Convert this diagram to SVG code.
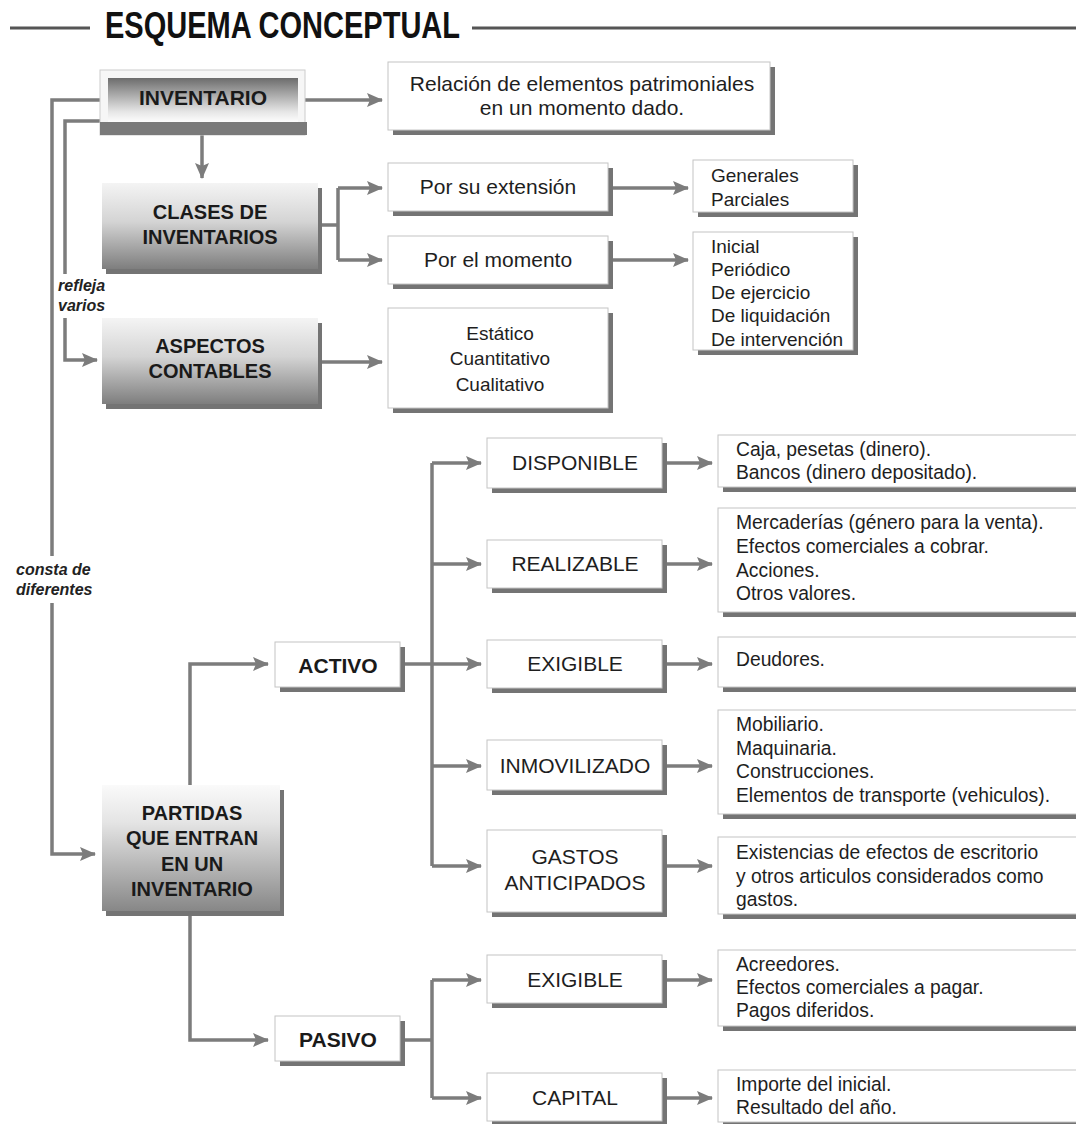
<svg xmlns="http://www.w3.org/2000/svg" width="1076" height="1124" viewBox="0 0 1076 1124">
<style>
  .sh{fill:#747474}
  .bx{fill:#ffffff;stroke:#c4c4c4;stroke-width:1}
  .t{font-family:"Liberation Sans",Arial,sans-serif;font-size:21px;fill:#1e1e1e}
  .tc{text-anchor:middle}
  .r{font-family:"Liberation Sans",Arial,sans-serif;font-size:19.3px;fill:#1e1e1e}
  .l{font-family:"Liberation Sans",Arial,sans-serif;font-size:19px;fill:#1e1e1e}
  .b{font-family:"Liberation Sans",Arial,sans-serif;font-size:20px;font-weight:bold;fill:#1a1a1a;text-anchor:middle}
  .it{font-family:"Liberation Sans",Arial,sans-serif;font-size:16px;font-weight:bold;font-style:italic;fill:#222}
  .c{fill:none;stroke:#7c7c7c;stroke-width:3.5}
  .ca{fill:none;stroke:#7c7c7c;stroke-width:3.5;marker-end:url(#ah)}
</style>
<defs>
  <marker id="ah" markerUnits="userSpaceOnUse" markerWidth="16" markerHeight="14" viewBox="0 0 16 14" refX="15" refY="7" orient="auto">
    <path d="M0,0 L16,7 L0,14 L3,7 z" fill="#7c7c7c"/>
  </marker>
  <linearGradient id="gInv" x1="0" y1="0" x2="0" y2="1">
    <stop offset="0" stop-color="#6c6c6c"/>
    <stop offset="0.35" stop-color="#a6a6a6"/>
    <stop offset="0.75" stop-color="#e6e6e6"/>
    <stop offset="1" stop-color="#ffffff"/>
  </linearGradient>
  <linearGradient id="gBox" x1="0" y1="0" x2="0" y2="1">
    <stop offset="0" stop-color="#f4f4f4"/>
    <stop offset="0.45" stop-color="#d4d4d4"/>
    <stop offset="1" stop-color="#7e7e7e"/>
  </linearGradient>
  <linearGradient id="gPar" x1="0" y1="0" x2="0" y2="1">
    <stop offset="0" stop-color="#fafafa"/>
    <stop offset="0.3" stop-color="#e4e4e4"/>
    <stop offset="1" stop-color="#878787"/>
  </linearGradient>
</defs>
<rect width="1076" height="1124" fill="#ffffff"/>

<g id="title">
  <line x1="10" y1="28" x2="90" y2="28" stroke="#555" stroke-width="3"/>
  <line x1="472" y1="28" x2="1076" y2="28" stroke="#555" stroke-width="3"/>
  <text x="105" y="38" textLength="355" lengthAdjust="spacingAndGlyphs" style="font-family:'Liberation Sans',Arial,sans-serif;font-size:37px;font-weight:bold;fill:#111">ESQUEMA CONCEPTUAL</text>
</g>

<g id="connectors">
  <path class="ca" d="M305,100 H382"/>
  <path class="ca" d="M202,135 V178"/>
  <path class="c" d="M100,100 H52 V556"/>
  <path class="ca" d="M52,603 V854 H95"/>
  <path class="c" d="M100,121 H65 V274"/>
  <path class="ca" d="M65,318 V360 H97"/>
  <path class="c" d="M320,225 H338 M338,188 V260"/>
  <path class="ca" d="M338,188 H382"/>
  <path class="ca" d="M338,260 H382"/>
  <path class="ca" d="M612,188 H688"/>
  <path class="ca" d="M612,260 H688"/>
  <path class="ca" d="M320,362 H382"/>
  <path class="ca" d="M190,785 V664 H268"/>
  <path class="ca" d="M190,915 V1040 H268"/>
  <path class="c" d="M432,463 V866"/>
  <path class="ca" d="M405,664 H481"/>
  <path class="ca" d="M432,463 H481"/>
  <path class="ca" d="M432,564 H481"/>
  <path class="ca" d="M432,766 H481"/>
  <path class="ca" d="M432,866 H481"/>
  <path class="c" d="M405,1040 H432 M432,980 V1098"/>
  <path class="ca" d="M432,980 H481"/>
  <path class="ca" d="M432,1098 H481"/>
  <path class="ca" d="M667,463 H712"/>
  <path class="ca" d="M667,564 H712"/>
  <path class="ca" d="M667,664 H712"/>
  <path class="ca" d="M667,766 H712"/>
  <path class="ca" d="M667,866 H712"/>
  <path class="ca" d="M667,980 H712"/>
  <path class="ca" d="M667,1098 H712"/>
</g>

<g id="labels">
  <text class="it" x="58" y="291">refleja</text>
  <text class="it" x="58" y="311">varios</text>
  <text class="it" x="16" y="575">consta de</text>
  <text class="it" x="16" y="595">diferentes</text>
</g>

<g id="inventario">
  <rect x="100" y="70" width="205" height="65" fill="#f6f6f6" stroke="#cccccc"/>
  <rect x="108" y="78" width="190" height="45" fill="url(#gInv)"/>
  <rect x="100" y="122" width="207" height="13" fill="#7a7a7a"/>
  <text x="203" y="105" style="font-family:'Liberation Sans',Arial,sans-serif;font-size:21px;font-weight:bold;fill:#1a1a1a;text-anchor:middle">INVENTARIO</text>
</g>

<g id="relacion">
  <rect class="sh" x="393" y="67" width="382" height="68"/>
  <rect class="bx" x="388" y="62" width="382" height="68"/>
  <text class="t tc" x="582" y="91">Relación de elementos patrimoniales</text>
  <text class="t tc" x="582" y="115">en un momento dado.</text>
</g>

<g id="clases">
  <rect class="sh" x="106" y="188" width="216" height="86"/>
  <rect x="102" y="183" width="216" height="86" fill="url(#gBox)"/>
  <text class="b" x="210" y="219">CLASES DE</text>
  <text class="b" x="210" y="244">INVENTARIOS</text>
</g>

<g id="extension">
  <rect class="sh" x="393" y="168" width="220" height="48"/>
  <rect class="bx" x="388" y="163" width="220" height="48"/>
  <text class="t tc" x="498" y="194">Por su extensión</text>
</g>

<g id="momento">
  <rect class="sh" x="393" y="241" width="220" height="48"/>
  <rect class="bx" x="388" y="236" width="220" height="48"/>
  <text class="t tc" x="498" y="267">Por el momento</text>
</g>

<g id="generales">
  <rect class="sh" x="698" y="165" width="160" height="52"/>
  <rect class="bx" x="693" y="160" width="160" height="52"/>
  <text class="l" x="711" y="182">Generales</text>
  <text class="l" x="711" y="206">Parciales</text>
</g>

<g id="inicial">
  <rect class="sh" x="698" y="237" width="160" height="118"/>
  <rect class="bx" x="693" y="232" width="160" height="118"/>
  <text class="l" x="711" y="253">Inicial</text>
  <text class="l" x="711" y="276">Periódico</text>
  <text class="l" x="711" y="299">De ejercicio</text>
  <text class="l" x="711" y="322">De liquidación</text>
  <text class="l" x="711" y="346">De intervención</text>
</g>

<g id="aspectos">
  <rect class="sh" x="106" y="323" width="216" height="86"/>
  <rect x="102" y="318" width="216" height="86" fill="url(#gBox)"/>
  <text class="b" x="210" y="353">ASPECTOS</text>
  <text class="b" x="210" y="378">CONTABLES</text>
</g>

<g id="estatico">
  <rect class="sh" x="393" y="313" width="220" height="100"/>
  <rect class="bx" x="388" y="308" width="220" height="100"/>
  <text class="l tc" x="500" y="340">Estático</text>
  <text class="l tc" x="500" y="365">Cuantitativo</text>
  <text class="l tc" x="500" y="391">Cualitativo</text>
</g>

<g id="partidas">
  <rect class="sh" x="106" y="790" width="178" height="126"/>
  <rect x="102" y="785" width="178" height="126" fill="url(#gPar)"/>
  <text class="b" x="192" y="820">PARTIDAS</text>
  <text class="b" x="192" y="845">QUE ENTRAN</text>
  <text class="b" x="192" y="871">EN UN</text>
  <text class="b" x="192" y="896">INVENTARIO</text>
</g>

<g id="activo">
  <rect class="sh" x="280" y="647" width="125" height="45"/>
  <rect class="bx" x="275" y="642" width="125" height="45"/>
  <text class="b" x="338" y="673" style="font-size:21px">ACTIVO</text>
</g>

<g id="pasivo">
  <rect class="sh" x="280" y="1021" width="125" height="45"/>
  <rect class="bx" x="275" y="1016" width="125" height="45"/>
  <text class="b" x="338" y="1047" style="font-size:21px">PASIVO</text>
</g>

<g id="disponible">
  <rect class="sh" x="492" y="443" width="175" height="50"/>
  <rect class="bx" x="487" y="438" width="175" height="50"/>
  <text class="t tc" x="575" y="470">DISPONIBLE</text>
</g>

<g id="realizable">
  <rect class="sh" x="492" y="545" width="175" height="48"/>
  <rect class="bx" x="487" y="540" width="175" height="48"/>
  <text class="t tc" x="575" y="571">REALIZABLE</text>
</g>

<g id="exigible-activo">
  <rect class="sh" x="492" y="645" width="175" height="48"/>
  <rect class="bx" x="487" y="640" width="175" height="48"/>
  <text class="t tc" x="575" y="671">EXIGIBLE</text>
</g>

<g id="inmovilizado">
  <rect class="sh" x="492" y="745" width="175" height="50"/>
  <rect class="bx" x="487" y="740" width="175" height="50"/>
  <text class="t tc" x="575" y="773">INMOVILIZADO</text>
</g>

<g id="gastos">
  <rect class="sh" x="492" y="835" width="175" height="82"/>
  <rect class="bx" x="487" y="830" width="175" height="82"/>
  <text class="t tc" x="575" y="864">GASTOS</text>
  <text class="t tc" x="575" y="890">ANTICIPADOS</text>
</g>

<g id="exigible-pasivo">
  <rect class="sh" x="492" y="960" width="175" height="48"/>
  <rect class="bx" x="487" y="955" width="175" height="48"/>
  <text class="t tc" x="575" y="987">EXIGIBLE</text>
</g>

<g id="capital">
  <rect class="sh" x="492" y="1078" width="175" height="48"/>
  <rect class="bx" x="487" y="1073" width="175" height="48"/>
  <text class="t tc" x="575" y="1105">CAPITAL</text>
</g>

<g id="caja">
  <rect class="sh" x="723" y="440" width="370" height="52"/>
  <rect class="bx" x="718" y="435" width="370" height="52"/>
  <text class="r" x="736" y="456">Caja, pesetas (dinero).</text>
  <text class="r" x="736" y="479">Bancos (dinero depositado).</text>
</g>

<g id="mercaderias">
  <rect class="sh" x="723" y="513" width="370" height="104"/>
  <rect class="bx" x="718" y="508" width="370" height="104"/>
  <text class="r" x="736" y="529">Mercaderías (género para la venta).</text>
  <text class="r" x="736" y="553">Efectos comerciales a cobrar.</text>
  <text class="r" x="736" y="577">Acciones.</text>
  <text class="r" x="736" y="600">Otros valores.</text>
</g>

<g id="deudores">
  <rect class="sh" x="723" y="642" width="370" height="50"/>
  <rect class="bx" x="718" y="637" width="370" height="50"/>
  <text class="r" x="736" y="666">Deudores.</text>
</g>

<g id="mobiliario">
  <rect class="sh" x="723" y="715" width="370" height="104"/>
  <rect class="bx" x="718" y="710" width="370" height="104"/>
  <text class="r" x="736" y="731">Mobiliario.</text>
  <text class="r" x="736" y="755">Maquinaria.</text>
  <text class="r" x="736" y="778">Construcciones.</text>
  <text class="r" x="736" y="802">Elementos de transporte (vehiculos).</text>
</g>

<g id="existencias">
  <rect class="sh" x="723" y="842" width="370" height="77"/>
  <rect class="bx" x="718" y="837" width="370" height="77"/>
  <text class="r" x="736" y="859">Existencias de efectos de escritorio</text>
  <text class="r" x="736" y="883">y otros articulos considerados como</text>
  <text class="r" x="736" y="906">gastos.</text>
</g>

<g id="acreedores">
  <rect class="sh" x="723" y="955" width="370" height="76"/>
  <rect class="bx" x="718" y="950" width="370" height="76"/>
  <text class="r" x="736" y="971">Acreedores.</text>
  <text class="r" x="736" y="994">Efectos comerciales a pagar.</text>
  <text class="r" x="736" y="1017">Pagos diferidos.</text>
</g>

<g id="importe">
  <rect class="sh" x="723" y="1075" width="370" height="52"/>
  <rect class="bx" x="718" y="1070" width="370" height="52"/>
  <text class="r" x="736" y="1091">Importe del inicial.</text>
  <text class="r" x="736" y="1114">Resultado del año.</text>
</g>
</svg>
